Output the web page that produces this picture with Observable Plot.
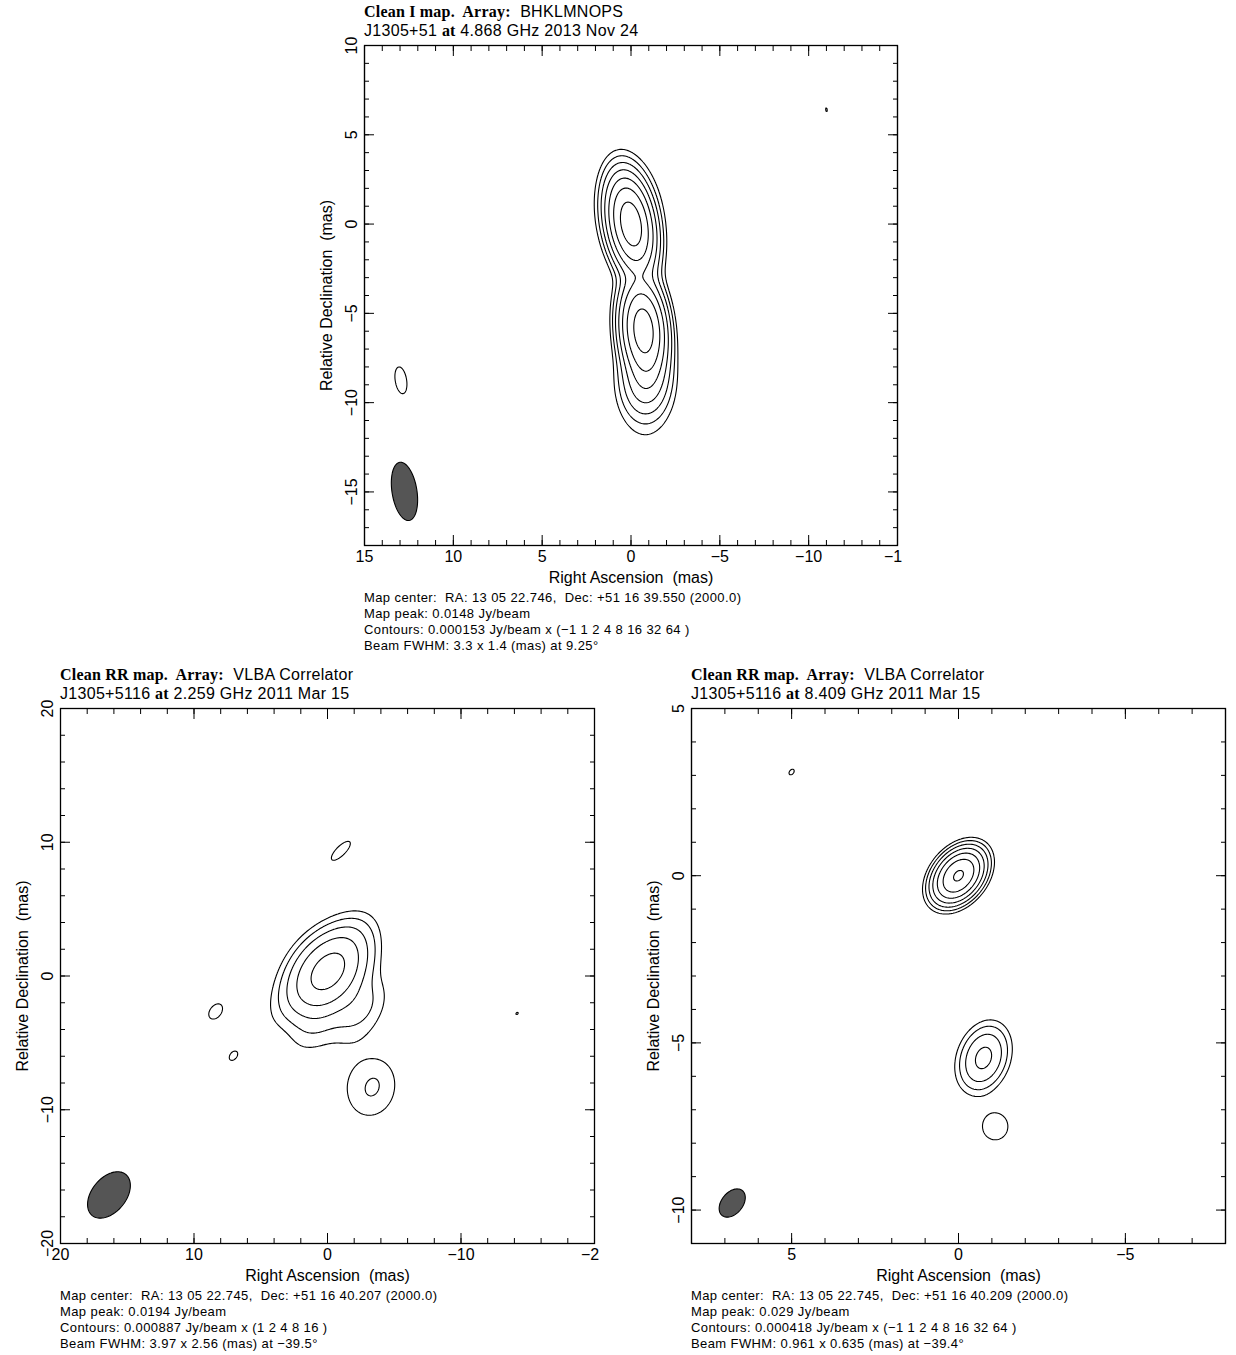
<!DOCTYPE html>
<html><head><meta charset="utf-8">
<script src="https://cdn.jsdelivr.net/npm/d3@7"></script>
<script src="https://cdn.jsdelivr.net/npm/@observablehq/plot@0.6"></script>
<style>
html,body{margin:0;padding:0;background:#fff;}
body{width:1236px;height:1355px;position:relative;overflow:hidden;font-family:"Liberation Sans",Arial,sans-serif;color:#000;}
.box{position:absolute;overflow:hidden;}
.box svg{max-width:none !important;}
.title{position:absolute;white-space:pre;font-size:16px;line-height:19px;letter-spacing:0.3px;}
.sb{font-family:"Liberation Serif","Times New Roman",serif;font-weight:bold;letter-spacing:0.2px;}
.cap{position:absolute;white-space:pre;font-size:13px;line-height:16px;letter-spacing:0.4px;}
</style></head><body>
<script>
// ===== Panel 1: 4.868 GHz, 2013 Nov 24 =====
const p1Title1 = ["Clean I map.  Array:", "BHKLMNOPS"];
const p1Title2 = ["J1305+51", "at", "4.868 GHz 2013 Nov 24"];
const p1Caption = [
  "Map center:  RA: 13 05 22.746,  Dec: +51 16 39.550 (2000.0)",
  "Map peak: 0.0148 Jy/beam",
  "Contours: 0.000153 Jy/beam x (\u22121 1 2 4 8 16 32 64 )",
  "Beam FWHM: 3.3 x 1.4 (mas) at 9.25\u00b0"
];
const p1XDomain = [15, -15];
const p1YDomain = [-18, 10];
const p1XMajor = [15, 10, 5, 0, -5, -10, -15];
const p1XTickText = ["15", "10", "5", "0", "\u22125", "\u221210", "\u22121\u2007"]; // last label is cut in the original
const p1YMajor = [10, 5, 0, -5, -10, -15];
const p1YTickText = ["10", "5", "0", "\u22125", "\u221210", "\u221215"];
const p1MinorStep = 1;
const p1Base = 0.000153;
const p1Multipliers = [-1, 1, 2, 4, 8, 16, 32, 64];
const p1Beam = {ra: 12.75, dec: -14.97, maj: 3.3, min: 1.4, pa: 9.25};
// Gaussian components (RA offset, Dec offset in mas; peak in Jy/beam; FWHM in mas; PA in deg)
const p1Components = [
  {ra: 0.0,   dec: 0.0,   peak: 0.0146,   maj: 3.2, min: 1.45, pa: 10},
  {ra: 0.1,   dec: 0.8,   peak: 0.0002,   maj: 4.5, min: 3.0,  pa: 0},
  {ra: -0.7,  dec: -5.93, peak: 0.0142,   maj: 3.2, min: 1.45, pa: 5},
  {ra: -0.8,  dec: -8.8,  peak: 0.0016,   maj: 2.6, min: 1.7,  pa: 0},
  {ra: -0.8,  dec: -9.5,  peak: 0.0002,   maj: 5.0, min: 2.6,  pa: 0},
  {ra: 12.95, dec: -8.75, peak: 0.000177, maj: 3.3, min: 1.4,  pa: 9.25},
  {ra: -11.0, dec: 6.4,   peak: 0.0001535, maj: 3.3, min: 1.4, pa: 9.25}
];

// ===== Panel 2: 2.259 GHz, 2011 Mar 15 =====
const p2Title1 = ["Clean RR map.  Array:", "VLBA Correlator"];
const p2Title2 = ["J1305+5116", "at", "2.259 GHz 2011 Mar 15"];
const p2Caption = [
  "Map center:  RA: 13 05 22.745,  Dec: +51 16 40.207 (2000.0)",
  "Map peak: 0.0194 Jy/beam",
  "Contours: 0.000887 Jy/beam x (1 2 4 8 16 )",
  "Beam FWHM: 3.97 x 2.56 (mas) at \u221239.5\u00b0"
];
const p2XDomain = [20, -20];
const p2YDomain = [-20, 20];
const p2XMajor = [20, 10, 0, -10, -20];
const p2XTickText = ["20", "10", "0", "\u221210", "\u22122\u2007"]; // last label is cut in the original
const p2YMajor = [20, 10, 0, -10, -20];
const p2YTickText = ["20", "10", "0", "\u221210", "\u221220"];
const p2MinorStep = 2;
const p2Base = 0.000887;
const p2Multipliers = [1, 2, 4, 8, 16];
const p2Beam = {ra: 16.37, dec: -16.37, maj: 3.97, min: 2.56, pa: -39.5};
const p2Components = [
  {ra: 0.0,   dec: 0.3,   peak: 0.0186,   maj: 4.5,  min: 3.1,  pa: -40},
  {ra: -1.6,  dec: 2.6,   peak: 0.0015,   maj: 3.97, min: 2.56, pa: -39.5},
  {ra: -2.4,  dec: -2.4,  peak: 0.0020,   maj: 3.97, min: 2.56, pa: -39.5},
  {ra: 1.0,   dec: -3.8,  peak: 0.0012,   maj: 3.97, min: 2.56, pa: -39.5},
  {ra: 2.8,   dec: -2.0,  peak: 0.0008,   maj: 3.97, min: 2.56, pa: -39.5},
  {ra: -3.37, dec: -8.3,  peak: 0.0009,   maj: 2.2,  min: 1.6,  pa: -20},
  {ra: -3.2,  dec: -8.3,  peak: 0.00112,  maj: 6.4,  min: 5.6,  pa: 0},
  {ra: -1.0,  dec: 9.36,  peak: 0.000963, maj: 5.5,  min: 2.0,  pa: -45},
  {ra: 8.39,  dec: -2.62, peak: 0.000945, maj: 3.97, min: 2.56, pa: -39.5},
  {ra: 7.04,  dec: -6.0,  peak: 0.000901, maj: 3.97, min: 2.56, pa: -39.5},
  {ra: -14.2, dec: -2.8,  peak: 0.000889, maj: 3.97, min: 2.56, pa: -39.5}
];

// ===== Panel 3: 8.409 GHz, 2011 Mar 15 =====
const p3Title1 = ["Clean RR map.  Array:", "VLBA Correlator"];
const p3Title2 = ["J1305+5116", "at", "8.409 GHz 2011 Mar 15"];
const p3Caption = [
  "Map center:  RA: 13 05 22.745,  Dec: +51 16 40.209 (2000.0)",
  "Map peak: 0.029 Jy/beam",
  "Contours: 0.000418 Jy/beam x (\u22121 1 2 4 8 16 32 64 )",
  "Beam FWHM: 0.961 x 0.635 (mas) at \u221239.4\u00b0"
];
const p3XDomain = [8, -8];
const p3YDomain = [-11, 5];
const p3XMajor = [5, 0, -5];
const p3XTickText = ["5", "0", "\u22125"];
const p3YMajor = [5, 0, -5, -10];
const p3YTickText = ["5", "0", "\u22125", "\u221210"];
const p3MinorStep = 1;
const p3Base = 0.000418;
const p3Multipliers = [-1, 1, 2, 4, 8, 16, 32, 64];
const p3Beam = {ra: 6.78, dec: -9.79, maj: 0.961, min: 0.635, pa: -39.4};
const p3Components = [
  {ra: 0.0,   dec: 0.0,   peak: 0.0290,  maj: 1.05,  min: 0.72,  pa: -40},
  {ra: -0.75, dec: -5.45, peak: 0.0040,  maj: 1.3,   min: 0.9,   pa: -20},
  {ra: -1.1,  dec: -7.5,  peak: 0.00065, maj: 1.0,   min: 0.95,  pa: 0},
  {ra: 5.0,   dec: 3.1,   peak: 0.00043, maj: 0.961, min: 0.635, pa: -39.4}
];

const xLabel = "Right Ascension  (mas)";
const yLabel = "Relative Declination  (mas)";

// elliptical Gaussian; PA from north (+dec) through east (+ra)
function gauss(c, x, y) {
  const t = c.pa * Math.PI / 180;
  const dx = x - c.ra, dy = y - c.dec;
  const u = dx * Math.sin(t) + dy * Math.cos(t);
  const v = dx * Math.cos(t) - dy * Math.sin(t);
  return c.peak * Math.exp(-4 * Math.LN2 * (u * u / (c.maj * c.maj) + v * v / (c.min * c.min)));
}

function minorTicks(domain, step) {
  const lo = Math.min(...domain), hi = Math.max(...domain);
  return d3.range(Math.ceil(lo / step) * step, hi + 1e-9, step);
}

const panels = [
  {frame: {left: 364, top: 45, w: 533, h: 500}, clipRight: 930,
   title1: p1Title1, title2: p1Title2, caption: p1Caption,
   xDomain: p1XDomain, yDomain: p1YDomain, xMajor: p1XMajor, yMajor: p1YMajor,
   xText: p1XTickText, yText: p1YTickText, step: p1MinorStep,
   thresholds: p1Multipliers.map(m => m * p1Base), beam: p1Beam, comps: p1Components},
  {frame: {left: 60, top: 708, w: 534, h: 535}, clipRight: 625,
   title1: p2Title1, title2: p2Title2, caption: p2Caption,
   xDomain: p2XDomain, yDomain: p2YDomain, xMajor: p2XMajor, yMajor: p2YMajor,
   xText: p2XTickText, yText: p2YTickText, step: p2MinorStep,
   thresholds: p2Multipliers.map(m => m * p2Base), beam: p2Beam, comps: p2Components},
  {frame: {left: 691, top: 708, w: 534, h: 535}, clipRight: 1236,
   title1: p3Title1, title2: p3Title2, caption: p3Caption,
   xDomain: p3XDomain, yDomain: p3YDomain, xMajor: p3XMajor, yMajor: p3YMajor,
   xText: p3XTickText, yText: p3YTickText, step: p3MinorStep,
   thresholds: p3Multipliers.map(m => m * p3Base), beam: p3Beam, comps: p3Components}
];

for (const p of panels) {
  const ml = 60, mr = 24, mt = 16, mb = 50;
  const {w, h, left, top} = p.frame;
  const total = (x, y) => { let s = 0; for (const c of p.comps) s += gauss(c, x, y); return s; };
  const beamFn = (x, y) => gauss({...p.beam, peak: 1}, x, y);
  const [x1, x2] = p.xDomain, [y1, y2] = p.yDomain;
  const xMinor = minorTicks(p.xDomain, p.step), yMinor = minorTicks(p.yDomain, p.step);
  const xFmt = new Map(p.xMajor.map((v, i) => [v, p.xText[i]]));
  const yFmt = new Map(p.yMajor.map((v, i) => [v, p.yText[i]]));
  const blank = () => "";
  const ticks = [];
  for (const [xv, yv, len] of [[p.xMajor, p.yMajor, 10], [xMinor, yMinor, 5]]) {
    ticks.push(Plot.axisX(xv, {anchor: "bottom", tickSize: len, dy: -len, tickFormat: blank, label: null}));
    ticks.push(Plot.axisX(xv, {anchor: "top", tickSize: len, dy: len, tickFormat: blank, label: null}));
    ticks.push(Plot.axisY(yv, {anchor: "left", tickSize: len, dx: len, tickFormat: blank, label: null}));
    ticks.push(Plot.axisY(yv, {anchor: "right", tickSize: len, dx: -len, tickFormat: blank, label: null}));
  }
  const chart = Plot.plot({
    width: w + ml + mr, height: h + mt + mb,
    marginLeft: ml, marginRight: mr, marginTop: mt, marginBottom: mb,
    x: {domain: p.xDomain}, y: {domain: p.yDomain},
    style: {fontFamily: "'Liberation Sans', Arial, sans-serif", fontSize: "16px", color: "#000", background: "#fff", maxWidth: "none"},
    marks: [
      Plot.contour({x1, x2, y1, y2, value: beamFn, thresholds: [0.5], fill: "#555", stroke: "#000", strokeWidth: 1.1, pixelSize: 1}),
      Plot.contour({x1, x2, y1, y2, value: total, thresholds: p.thresholds, fill: "none", stroke: "#000", strokeWidth: 1.1, pixelSize: 1}),
      Plot.frame({stroke: "#000", strokeWidth: 1.3}),
      ...ticks,
      Plot.axisX(p.xMajor, {anchor: "bottom", tickSize: 0, tickPadding: 5, label: null, fontSize: 16, tickFormat: d => xFmt.get(d)}),
      Plot.axisY(p.yMajor, {anchor: "left", tickSize: 0, tickPadding: 8, tickRotate: -90, label: null, fontSize: 16, tickFormat: d => yFmt.get(d)}),
      Plot.text([xLabel], {frameAnchor: "bottom", dy: 26, lineAnchor: "top", textAnchor: "middle", fontSize: 16}),
      Plot.text([yLabel], {frameAnchor: "left", dx: -33, rotate: -90, lineAnchor: "bottom", textAnchor: "middle", fontSize: 16})
    ]
  });
  chart.style.maxWidth = "none";
  const box = document.createElement("div");
  box.className = "box";
  box.style.left = (left - ml) + "px";
  box.style.top = (top - mt) + "px";
  box.style.width = (p.clipRight - (left - ml)) + "px";
  box.style.height = (h + mt + mb) + "px";
  box.appendChild(chart);
  document.body.appendChild(box);

  const t = document.createElement("div");
  t.className = "title";
  t.style.left = left + "px";
  t.style.top = (top - 43) + "px";
  const l1 = document.createElement("div");
  const s1 = document.createElement("span"); s1.className = "sb"; s1.textContent = p.title1[0];
  l1.appendChild(s1); l1.appendChild(document.createTextNode("  " + p.title1[1]));
  const l2 = document.createElement("div");
  l2.appendChild(document.createTextNode(p.title2[0] + " "));
  const s2 = document.createElement("span"); s2.className = "sb"; s2.textContent = p.title2[1];
  l2.appendChild(s2); l2.appendChild(document.createTextNode(" " + p.title2[2]));
  t.appendChild(l1); t.appendChild(l2);
  document.body.appendChild(t);

  const c = document.createElement("div");
  c.className = "cap";
  c.style.left = left + "px";
  c.style.top = (top + h + 44.5) + "px";
  c.textContent = p.caption.join("\n");
  document.body.appendChild(c);
}
</script>
</body></html>
